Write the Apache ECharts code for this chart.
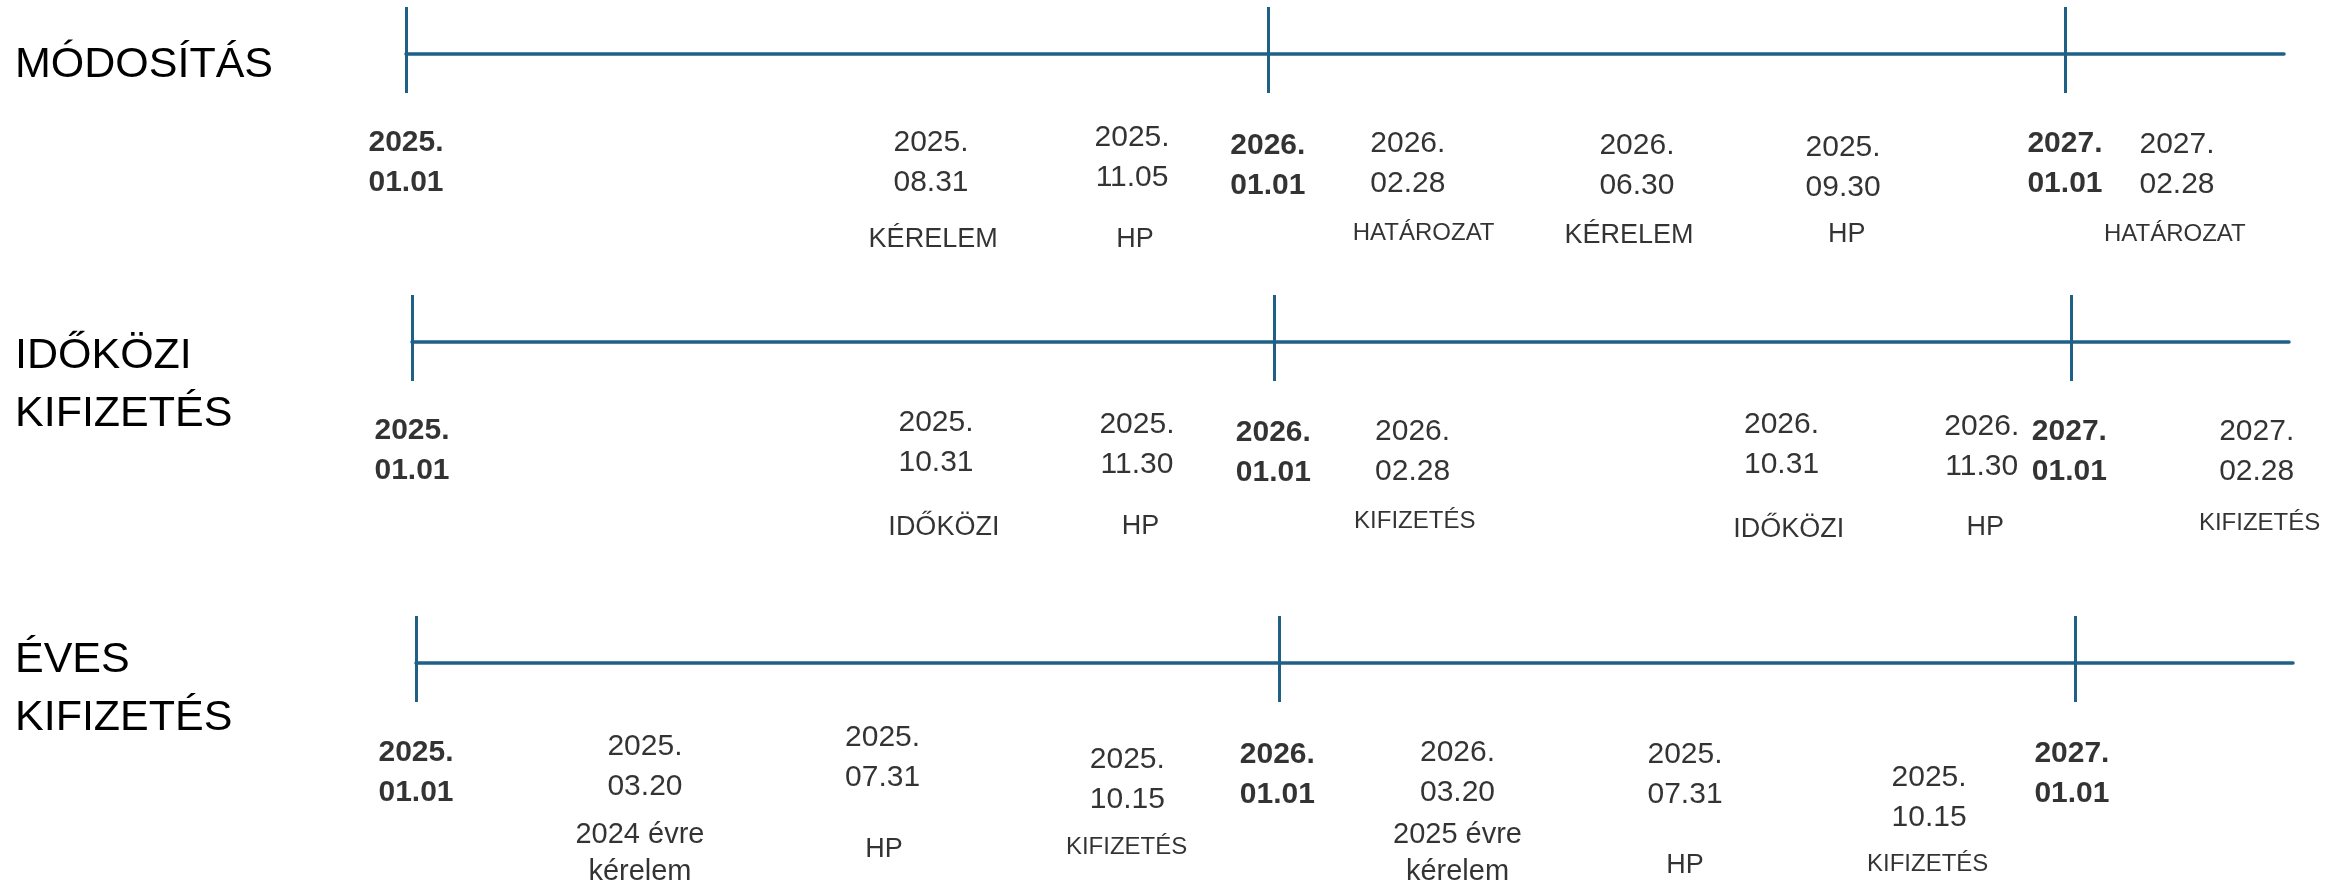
<!DOCTYPE html>
<html>
<head>
<meta charset="utf-8">
<script src="https://cdn.jsdelivr.net/npm/echarts@6/dist/echarts.min.js"></script>
<style>
  html, body { margin: 0; padding: 0; background: #ffffff; }
  #chart { width: 2351px; height: 886px; }
</style>
</head>
<body>
<div id="chart"></div>
<script>
// ---- DATA (timeline position in months from 2025.01.01 as laid out in the picture; depth below line) ----
const rowTitles = ['MÓDOSÍTÁS', 'IDŐKÖZI\nKIFIZETÉS', 'ÉVES\nKIFIZETÉS'];
const timelineEnd = 26.15;

const r1DateLabels = ['2025.01.01', '2025.08.31', '2025.11.05', '2026.01.01', '2026.02.28', '2026.06.30', '2025.09.30', '2027.01.01', '2027.02.28'];
const r1DateX = [0, 7.31, 10.11, 12, 13.95, 17.14, 20.01, 23.1, 24.66];
const r1DateY = [108.5, 108.5, 103.5, 111.5, 109.5, 112, 113.5, 110, 110.5];
const r1Names = ['KÉRELEM', 'HP', 'HATÁROZAT', 'KÉRELEM', 'HP', 'HATÁROZAT'];
const r1NameX = [7.34, 10.15, 14.17, 17.03, 20.06, 24.63];
const r1NameY = [186, 186, 179.5, 181.5, 180.5, 180.5];
const r1Ticks = [0, 12, 23.11];

const r2DateLabels = ['2025.01.01', '2025.10.31', '2025.11.30', '2026.01.01', '2026.02.28', '2026.10.31', '2026.11.30', '2027.01.01', '2027.02.28'];
const r2DateX = [0, 7.30, 10.10, 12, 13.94, 19.08, 21.87, 23.09, 25.70];
const r2DateY = [108.5, 101, 103, 111, 109.5, 102.5, 105, 110, 110];
const r2Names = ['IDŐKÖZI', 'HP', 'KIFIZETÉS', 'IDŐKÖZI', 'HP', 'KIFIZETÉS'];
const r2NameX = [7.41, 10.15, 13.97, 19.18, 21.92, 25.74];
const r2NameY = [186, 185, 179.5, 187.5, 186, 181.5];
const r2Ticks = [0, 12.01, 23.11];

const r3DateLabels = ['2025.01.01', '2025.03.20', '2025.07.31', '2025.10.15', '2026.01.01', '2026.03.20', '2025.07.31', '2025.10.15', '2027.01.01'];
const r3DateX = [0, 3.19, 6.50, 9.91, 12, 14.51, 17.68, 21.08, 23.07];
const r3DateY = [109.5, 103.5, 94.5, 117, 112, 110, 112, 134.5, 110.5];
const r3Names = ['2024 évre\nkérelem', 'HP', 'KIFIZETÉS', '2025 évre\nkérelem', 'HP', 'KIFIZETÉS'];
const r3NameX = [3.12, 6.52, 9.90, 14.51, 17.68, 21.06];
const r3NameY = [190, 187, 184, 190, 203, 201.5];
const r3Ticks = [0, 12.02, 23.12];

// ---- LAYOUT / STYLE ----
const FONT = '"Liberation Sans", Arial, sans-serif';
const LINE_COLOR = '#1f6086';
const rowLayout = [
  { lineY: 54, left: 406, right: 67, titleCenter: 65.5 },
  { lineY: 342, left: 412, right: 62, titleCenter: 385 },
  { lineY: 663, left: 416, right: 58, titleCenter: 689 }
];
const ABOVE = 50, BELOW = 220;
const TICK_UP = 47, TICK_DOWN = 39;

const rows = [
  { dates: r1DateLabels, dx: r1DateX, dy: r1DateY, names: r1Names, nx: r1NameX, ny: r1NameY, ticks: r1Ticks },
  { dates: r2DateLabels, dx: r2DateX, dy: r2DateY, names: r2Names, nx: r2NameX, ny: r2NameY, ticks: r2Ticks },
  { dates: r3DateLabels, dx: r3DateX, dy: r3DateY, names: r3Names, nx: r3NameX, ny: r3NameY, ticks: r3Ticks }
];

function nameStyle(n) {
  if (n === 'HATÁROZAT' || n === 'KIFIZETÉS') return { fontSize: 24, lineHeight: 30 };
  if (n.indexOf('\n') >= 0) return { fontSize: 29, lineHeight: 37 };
  return { fontSize: 27, lineHeight: 32 };
}

const grids = [], xAxes = [], yAxes = [], series = [], titles = [];

rowLayout.forEach((L, i) => {
  grids.push({ left: L.left, right: L.right, top: L.lineY - ABOVE, height: ABOVE + BELOW, containLabel: false });
  xAxes.push({
    type: 'value', gridIndex: i, min: 0, max: timelineEnd,
    axisLine: { show: true, onZero: true, lineStyle: { color: LINE_COLOR, width: 3.5 } },
    axisTick: { show: false }, axisLabel: { show: false }, splitLine: { show: false }
  });
  yAxes.push({ type: 'value', gridIndex: i, min: -ABOVE, max: BELOW, inverse: true, show: false });

  const lines = rowTitles[i].split('\n').length;
  titles.push({
    text: rowTitles[i], left: 15, top: L.titleCenter - lines * 58 / 2, padding: 0,
    textStyle: { fontFamily: FONT, fontSize: 43, fontWeight: 'normal', lineHeight: 58, color: '#000' }
  });

  const R = rows[i];
  // year ticks across the timeline
  series.push({
    type: 'scatter', xAxisIndex: i, yAxisIndex: i, data: [], silent: true,
    markLine: {
      silent: true, symbol: ['none', 'none'], label: { show: false },
      lineStyle: { type: 'solid', color: LINE_COLOR, width: 3 },
      data: R.ticks.map(t => [{ coord: [t, -TICK_UP] }, { coord: [t, TICK_DOWN] }])
    }
  });
  // date labels
  series.push({
    type: 'scatter', xAxisIndex: i, yAxisIndex: i, clip: false, silent: true,
    symbolSize: 1, itemStyle: { color: 'rgba(0,0,0,0)' },
    data: R.dates.map((d, k) => {
      const bold = d.endsWith('01.01');
      return {
        value: [R.dx[k], R.dy[k]],
        name: d,
        label: { fontWeight: bold ? 'bold' : 'normal' }
      };
    }),
    label: {
      show: true, position: 'inside', color: '#000', fontFamily: FONT, fontSize: 30, lineHeight: 40,
      align: 'center', verticalAlign: 'middle',
      formatter: p => { const s = p.name; return s.slice(0, 5) + '\n' + s.slice(5); }
    }
  });
  // event names
  series.push({
    type: 'scatter', xAxisIndex: i, yAxisIndex: i, clip: false, silent: true,
    symbolSize: 1, itemStyle: { color: 'rgba(0,0,0,0)' },
    data: R.names.map((n, k) => ({ value: [R.nx[k], R.ny[k]], name: n, label: nameStyle(n) })),
    label: {
      show: true, position: 'inside', color: '#000', fontFamily: FONT,
      align: 'center', verticalAlign: 'middle',
      formatter: p => p.name
    }
  });
});

const chart = echarts.init(document.getElementById('chart'), null, { renderer: 'canvas' });
chart.setOption({
  backgroundColor: '#ffffff',
  animation: false,
  title: titles,
  grid: grids,
  xAxis: xAxes,
  yAxis: yAxes,
  series: series
});
</script>
</body>
</html>
